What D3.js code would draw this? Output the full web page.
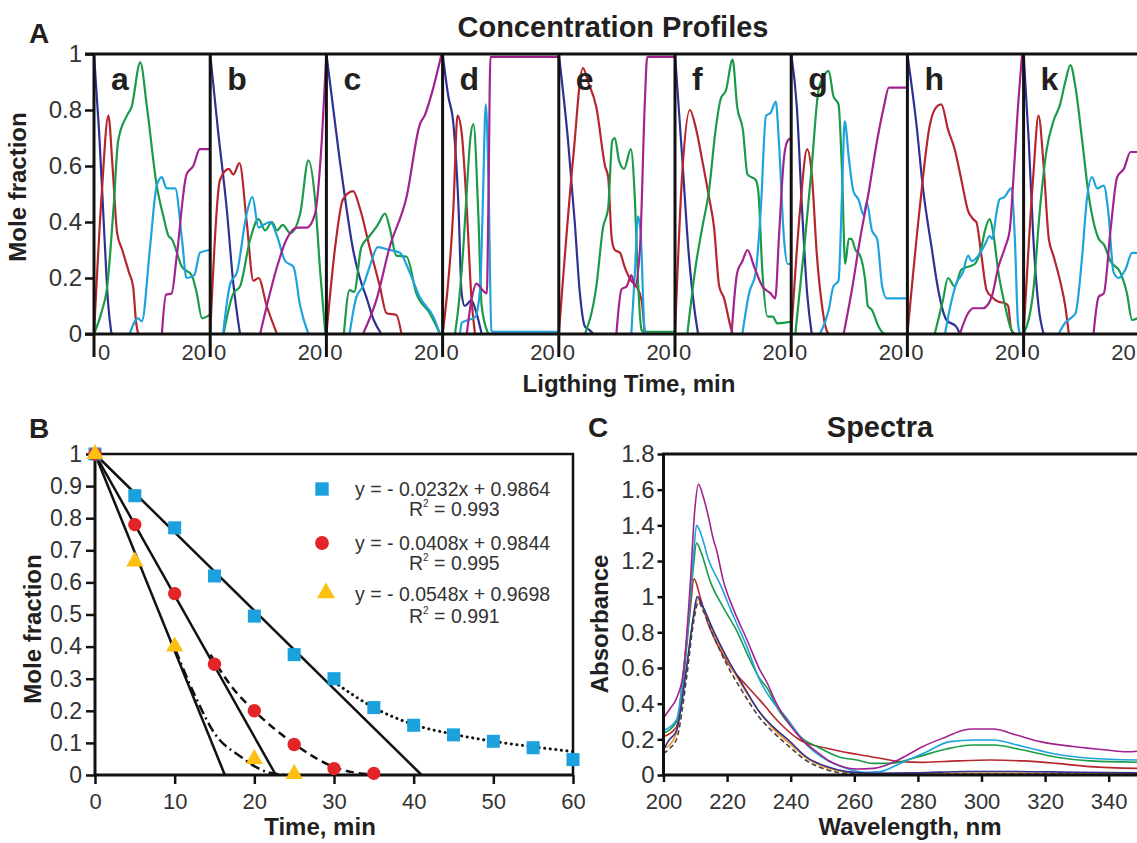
<!DOCTYPE html>
<html>
<head>
<meta charset="utf-8">
<script src="https://cdn.jsdelivr.net/npm/d3@7"></script>
<style>
body { margin: 0; background: #fff; }
svg { display: block; font-family: "Liberation Sans", Arial, sans-serif; }
</style>
</head>
<body>
<div id="wrapper"></div>
<script>
// ---------- Panel A data: one entry per small panel, points are [time (min), mole fraction]
var panelNames = ["a", "b", "c", "d", "e", "f", "g", "h", "k"];

var navyProfiles = [
    [[0,1],[1,0.72],[2,0.36],[2.7,0.12],[3.4,0]],
    [[0,1],[1.5,0.73],[3.2,0.45],[4.5,0.18],[5.8,0]],
    [[0,1],[1.5,0.78],[2.6,0.62],[3.9,0.45],[5.2,0.3],[6.5,0.2],[7.8,0.13],[9.2,0.05],[10.7,0]],
    [[0,1],[1.1,0.85],[2.1,0.75],[3.1,0.45],[3.7,0.145],[4.3,0.1],[5.6,0.12],[6.6,0.074],[7.6,0]],
    [[0,1],[1.8,0.69],[3.1,0.4],[4.1,0.145],[5.1,0.026],[6,0.014],[6.7,0]],
    [[0,1],[1.4,0.63],[2.7,0.28],[3.7,0.1],[4.5,0]],
    [[0,1],[1.1,0.81],[2.1,0.45],[3.1,0.145],[4,0]],
    [[0,1],[1.75,0.75],[3.1,0.51],[4.7,0.31],[6,0.157],[7.6,0.05],[9.5,0.026],[10.2,0]],
    [[0,1],[1,0.69],[1.9,0.34],[2.9,0.1],[3.9,0]]
];

var redProfiles = [
    [[0,0],[1.5,0.5],[2.8,0.78],[3.6,0.6],[4.5,0.36],[5.5,0.3],[6.8,0.22],[7.6,0.17],[8.2,0.04],[8.6,0]],
    [[0,0],[1.9,0.55],[3.6,0.59],[4.5,0.57],[5.7,0.61],[7.1,0.4],[8.4,0.19],[9.4,0.2],[11,0.1],[13,0]],
    [[0,0],[1.9,0.34],[3.2,0.48],[5.2,0.51],[6.5,0.45],[8.4,0.31],[10.4,0.17],[11.7,0.074],[13.6,0.068],[14.6,0]],
    [[0,0],[2.1,0.45],[2.9,0.78],[3.7,0.72],[4.7,0.45],[5.6,0.13],[6.3,0]],
    [[0,0],[2.8,0.63],[4.7,0.95],[5.7,0.9],[7.3,0.81],[9,0.6],[9.6,0.56],[10.3,0.34],[10.9,0.3],[11.9,0.29],[12.8,0.24],[14.1,0.19],[15.1,0.17],[16.1,0.12],[16.7,0]],
    [[0,0],[1.4,0.57],[2.9,0.8],[4,0.74],[5.3,0.62],[6.6,0.49],[7.6,0.38],[8.6,0.17],[9.5,0.13],[10.8,0.026],[11.2,0]],
    [[0,0],[1.75,0.45],[3.1,0.66],[4,0.57],[5,0.28],[6,0.1],[6.9,0.012],[7.3,0]],
    [[0,0],[2.4,0.45],[4.3,0.74],[5.6,0.81],[6.6,0.82],[7.9,0.73],[9.2,0.66],[10.5,0.55],[11.8,0.44],[12.8,0.41],[13.4,0.4],[14.4,0.28],[15.4,0.157],[16.4,0.133],[17.7,0.115],[19,0.11],[19.6,0.1],[20.2,0.014],[20.9,0]],
    [[0,0],[1.9,0.57],[2.9,0.78],[3.9,0.6],[4.9,0.34],[5.8,0.28],[7.1,0.19],[8.1,0.1],[8.8,0]]
];

var greenProfiles = [
    [[0,0],[1.5,0.08],[2.5,0.16],[3.8,0.45],[4.7,0.69],[6.4,0.78],[7.3,0.81],[9,0.97],[10.3,0.81],[12.2,0.53],[13.5,0.42],[14.5,0.35],[15.1,0.34],[17.1,0.24],[19,0.21],[20,0.145],[21,0.056],[22.6,0.07]],
    [[2.6,0],[4.5,0.145],[5.8,0.17],[7.8,0.34],[9.4,0.41],[10.7,0.37],[12,0.4],[13,0.37],[14.1,0.39],[15.6,0.36],[17.5,0.43],[19.1,0.62],[20.4,0.48],[21.4,0.22],[22.4,0]],
    [[3.4,0],[4.5,0.157],[5.4,0.15],[6.8,0.31],[8.4,0.35],[10,0.39],[11.4,0.43],[12.3,0.38],[13.6,0.28],[15.6,0.276],[17.5,0.145],[20.1,0.074],[22.1,0]],
    [[2.4,0],[3.1,0.1],[4,0.3],[4.7,0.51],[5.4,0.7],[6,0.75],[6.9,0.45],[7.6,0.1],[8.9,0]],
    [[5.1,0],[7.3,0.17],[8.6,0.38],[9.6,0.45],[10.4,0.69],[10.9,0.7],[11.7,0.62],[12.7,0.59],[14,0.66],[14.8,0.48],[15.4,0.19],[16.1,0.014],[16.5,0.008],[22.6,0.008]],
    [[2.4,0],[4,0.24],[5.3,0.38],[6.6,0.51],[7.9,0.73],[8.9,0.84],[9.9,0.87],[11.2,0.98],[12.1,0.81],[13.2,0.73],[14.1,0.57],[15.7,0.55],[16.2,0.51],[17,0.22],[18,0.062],[19,0.062],[19.9,0.038],[22.6,0.044]],
    [[0.8,0],[2.7,0.34],[4,0.6],[5.3,0.87],[6.3,0.92],[7.3,0.94],[8.2,0.85],[9.2,0.82],[9.9,0.57],[10.5,0.25],[11.2,0.34],[11.7,0.34],[12.5,0.3],[13.4,0.28],[14.4,0.19],[14.9,0.1],[15.7,0.086],[17,0.026],[18.3,0],[22.6,0]],
    [[5.3,0],[6.9,0.12],[7.9,0.2],[9.2,0.17],[10.5,0.23],[11.8,0.24],[13.1,0.25],[14.4,0.31],[15.1,0.37],[16,0.41],[16.7,0.36],[17.7,0.22],[19,0.1],[20,0.026],[20.6,0]],
    [[0,0],[1.9,0.157],[3.2,0.45],[4.5,0.66],[5.8,0.76],[7.1,0.82],[8.1,0.9],[9.1,0.96],[10.1,0.88],[11.4,0.69],[12.7,0.49],[13.6,0.4],[14.6,0.34],[15.6,0.32],[16.9,0.26],[18.8,0.22],[20.1,0.145],[21.1,0.05],[22.1,0.056]]
];

var blueProfiles = [
    [[6.9,0],[8.6,0.056],[9.3,0.045],[10.9,0.31],[12.2,0.53],[13.2,0.56],[14.1,0.52],[15.8,0.52],[17.1,0.34],[18,0.2],[19.5,0.21],[20.6,0.29],[22.6,0.3]],
    [[2.5,0],[3.9,0.18],[5.2,0.22],[7.1,0.43],[8.2,0.49],[9.4,0.38],[10.4,0.39],[11.7,0.4],[13,0.35],[14.6,0.26],[16.2,0.24],[17.5,0.1],[19.1,0]],
    [[4.5,0],[5.8,0.13],[7.1,0.17],[8.4,0.24],[10,0.31],[12.3,0.3],[14.3,0.29],[16.2,0.22],[18.2,0.13],[20.8,0.062],[22.1,0]],
    [[3.4,0],[3.7,0.04],[5,0.05],[6.3,0.06],[7.3,0.16],[7.8,0.45],[8.4,0.82],[8.9,0.57],[9.5,0.012],[9.8,0.008],[22.6,0.008]],
    [[14.1,0],[14.8,0.22],[15.4,0.42],[15.9,0.37],[16.7,0.014],[17.1,0]],
    [[13.1,0],[14.4,0.145],[15.7,0.22],[16.7,0.45],[17.7,0.78],[18.6,0.79],[19.6,0.83],[20.2,0.69],[21.2,0.34],[21.9,0.25],[22.6,0.25]],
    [[5.6,0],[7.3,0.086],[8.2,0.17],[9.2,0.19],[9.9,0.51],[10.4,0.76],[11.2,0.63],[12.1,0.51],[13.1,0.48],[14.1,0.425],[14.7,0.47],[15.7,0.37],[16.7,0.34],[17.7,0.17],[18.6,0.127],[22.6,0.127]],
    [[7.3,0],[8.6,0.12],[9.5,0.18],[10.8,0.22],[11.8,0.28],[12.5,0.26],[13.8,0.28],[15.1,0.32],[16,0.35],[16.5,0.34],[17.3,0.43],[17.9,0.48],[18.9,0.49],[20.2,0.52],[20.9,0.34],[21.5,0.04],[21.9,0]],
    [[6.8,0],[8.1,0.04],[9.1,0.056],[10.1,0.074],[11.4,0.28],[12.3,0.48],[13.3,0.56],[14.3,0.52],[15.6,0.53],[16.5,0.43],[17.5,0.22],[18.5,0.2],[19.8,0.23],[21.1,0.29],[22.1,0.29]]
];

var magentaProfiles = [
    [[13.2,0],[14,0.14],[15.1,0.145],[16.1,0.28],[18,0.57],[19.3,0.6],[20.6,0.66],[22.6,0.66]],
    [[9.7,0],[11,0.1],[13,0.24],[14.9,0.34],[16.9,0.38],[18.8,0.38],[20.4,0.43],[21.7,0.69],[22.6,1]],
    [[7.1,0],[9.7,0.12],[12.3,0.31],[15.6,0.49],[18.2,0.75],[19.1,0.78],[20.8,0.88],[22.4,1]],
    [[4.7,0],[5.6,0.12],[6.6,0.18],[7.6,0.16],[8.6,0.145],[8.9,0.45],[9.3,0.99],[22.6,0.99]],
    [[11.2,0],[12.2,0.16],[13.2,0.17],[14.1,0.21],[14.8,0.17],[15.8,0.31],[16.7,0.81],[17.2,0.99],[22.6,0.99]],
    [[11,0],[12.1,0.22],[13.1,0.26],[14.1,0.3],[15.4,0.24],[17,0.17],[18.6,0.145],[19.5,0.127],[20.2,0.34],[21.2,0.63],[21.9,0.69],[22.6,0.7]],
    [[10.2,0],[11.8,0.157],[13.4,0.34],[15.1,0.51],[16.7,0.69],[18,0.81],[19,0.88],[20.2,0.88],[22.6,0.88]],
    [[10.2,0],[11.8,0.074],[12.8,0.092],[14.7,0.092],[16.4,0.133],[17.7,0.24],[19,0.31],[19.9,0.37],[20.6,0.55],[21.5,0.81],[22.3,1]],
    [[13.6,0],[14.6,0.133],[15.6,0.145],[16.9,0.37],[18.2,0.56],[19.5,0.59],[20.8,0.65],[22.1,0.65]]
];

var profileTicks = [0, 0.2, 0.4, 0.6, 0.8, 1];
var profileTimeTicks = [0, 20];

// ---------- Panel B data
var squareTime = [0, 5, 10, 15, 20, 25, 30, 35, 40, 45, 50, 55, 60];
var squareValues = [1, 0.87, 0.77, 0.62, 0.495, 0.375, 0.3, 0.21, 0.155, 0.125, 0.105, 0.085, 0.048];
var circleTime = [0, 5, 10, 15, 20, 25, 30, 35];
var circleValues = [1, 0.78, 0.565, 0.345, 0.2, 0.095, 0.02, 0.005];
var triangleTime = [0, 5, 10, 20, 25];
var triangleValues = [1, 0.665, 0.4, 0.05, 0.003];

var squareFit = [[0, 1], [41, 0]];
var circleFit = [[0, 1], [22.7, 0]];
var triangleFit = [[0, 1], [16.3, 0]];

var squareTail = [[30, 0.29], [35, 0.21], [40, 0.157], [45, 0.127], [50, 0.105], [55, 0.088], [60, 0.073]];
var circleTail = [[14.5, 0.375], [17, 0.28], [20, 0.2], [25, 0.097], [30, 0.025], [33, 0.006], [35, 0.002]];
var triangleTail = [[10.1, 0.39], [12.5, 0.25], [15, 0.13], [18.3, 0.057], [21.5, 0.01], [24, 0]];

var fitEquations = ["y = - 0.0232x + 0.9864", "y = - 0.0408x + 0.9844", "y = - 0.0548x + 0.9698"];
var fitR2 = ["0.993", "0.995", "0.991"];

var timeTicks = [0, 10, 20, 30, 40, 50, 60];
var fractionTicks = [0, 0.1, 0.2, 0.3, 0.4, 0.5, 0.6, 0.7, 0.8, 0.9, 1];

// ---------- Panel C data: [wavelength nm, absorbance]
var spectrumMagenta = [[200,0.32],[202,0.37],[204.1,0.43],[206.2,0.57],[208.3,1.04],[209.9,1.5],[211,1.63],[212.5,1.56],[214.1,1.45],[215.7,1.32],[216.7,1.26],[218.8,1.09],[222,0.93],[226.2,0.76],[230.3,0.59],[232.5,0.52],[235,0.42],[239.8,0.28],[244,0.19],[248.2,0.13],[252,0.08],[255.5,0.052],[260.8,0.034],[265.9,0.037],[270,0.055],[274.4,0.09],[281.6,0.16],[289,0.215],[294,0.25],[297.4,0.258],[303.7,0.258],[311,0.224],[318.4,0.187],[328.8,0.16],[339.4,0.14],[345.7,0.13],[350,0.135]];
var spectrumBlue = [[200,0.25],[204.1,0.31],[205.5,0.45],[207.3,0.76],[209.4,1.22],[210.4,1.4],[212,1.34],[214.1,1.21],[217.8,1.07],[222,0.89],[226.2,0.72],[230.3,0.53],[234,0.42],[238.7,0.32],[245,0.17],[251.3,0.084],[257.6,0.037],[263.9,0.015],[268.1,0.019],[274.4,0.065],[281.6,0.12],[290.1,0.187],[297.4,0.196],[303.7,0.196],[313,0.16],[323.6,0.116],[334.1,0.094],[350,0.084]];
var spectrumGreen = [[200,0.234],[204.1,0.3],[205.5,0.42],[207.3,0.72],[209.4,1.17],[210.4,1.3],[212,1.24],[214.6,1.09],[218.8,0.94],[223,0.81],[227.2,0.645],[230.3,0.54],[232.5,0.49],[236,0.37],[239.8,0.28],[244,0.2],[248.2,0.16],[255.5,0.1],[260.8,0.084],[265.9,0.065],[271.1,0.065],[279.6,0.1],[289,0.146],[297.4,0.168],[303.7,0.168],[313,0.14],[323.6,0.1],[334.1,0.079],[350,0.071]];
var spectrumRed = [[200,0.215],[204.1,0.27],[206.2,0.57],[208.3,0.91],[209.6,1.1],[211.5,1],[213.6,0.87],[216.7,0.74],[220.9,0.61],[226.2,0.5],[230.3,0.42],[236.6,0.29],[242.9,0.196],[251.3,0.15],[260.8,0.116],[268.1,0.094],[274.4,0.075],[281.6,0.071],[292.2,0.079],[302.7,0.084],[313,0.079],[323.6,0.065],[334.1,0.047],[350,0.037]];
var spectrumOrange = [[200,0.15],[202,0.17],[204.1,0.24],[207.3,0.6],[209.4,0.88],[210.8,0.985],[212.5,0.93],[215.7,0.8],[219.9,0.65],[225.1,0.49],[230.3,0.35],[234.5,0.26],[239.8,0.175],[245,0.095],[251.3,0.04],[257.6,0.015],[265.9,0.008],[280,0.008],[300,0.01],[330,0.008],[350,0.008]];
var spectrumNavy = [[200,0.14],[201.5,0.19],[204.1,0.25],[207.3,0.61],[209.4,0.89],[210.6,1],[212.5,0.94],[215.7,0.81],[219.9,0.66],[225.1,0.5],[230.3,0.35],[234.5,0.27],[239.8,0.187],[245,0.1],[251.3,0.047],[257.6,0.019],[265.9,0.01],[280,0.012],[295,0.02],[310,0.02],[330,0.015],[350,0.012]];
var spectrumDashed = [[200,0.12],[202,0.15],[204.1,0.2],[207.3,0.55],[209.4,0.85],[211,0.97],[212.5,0.92],[215.7,0.78],[219.9,0.62],[225.1,0.46],[230.3,0.32],[234.5,0.24],[239.8,0.155],[245,0.08],[251.3,0.03],[257.6,0.008],[265.9,0.003],[300,0.005],[350,0.004]];

var wavelengthTicks = [200, 220, 240, 260, 280, 300, 320, 340];
var absorbanceTicks = [0, 0.2, 0.4, 0.6, 0.8, 1, 1.2, 1.4, 1.6, 1.8];

// ---------- common styles
var W = 1137, H = 843;
var ink = "#231f20", tickInk = "#333";
var profileColors = ["#2e3192", "#b5272d", "#1a9b48", "#1fa3dc", "#a3238e"];

var svg = d3.select("#wrapper").append("svg")
    .attr("width", W)
    .attr("height", H);
svg.append("rect").attr("width", W).attr("height", H).attr("fill", "#fff");

// Function: plain text helper
var addText = function(x, y, str, size, weight, anchor, fill) {
    return svg.append("text")
        .attr("x", x)
        .attr("y", y)
        .attr("font-size", size)
        .attr("font-weight", weight || "normal")
        .attr("text-anchor", anchor || "start")
        .attr("fill", fill || ink)
        .text(str);
};

// Function: rotated axis title
var addRotated = function(x, y, str) {
    svg.append("text")
        .attr("transform", "translate(" + x + "," + y + ") rotate(-90)")
        .attr("text-anchor", "middle")
        .attr("font-size", 24)
        .attr("font-weight", "bold")
        .attr("fill", ink)
        .text(str);
};

// Function: style axis ticks
var styleAxis = function(g, size) {
    g.select(".domain").remove();
    g.selectAll(".tick line").attr("stroke", "#111").attr("stroke-width", 2.5);
    g.selectAll(".tick text")
        .attr("font-size", size)
        .attr("font-family", "Liberation Sans, Arial, sans-serif")
        .attr("fill", tickInk);
};

// =============== PANEL A ===============
var A = { left: 94, top: 54, bottom: 334, step: 116.2 };
var yA = d3.scaleLinear().domain([0, 1]).range([A.bottom, A.top]);
var profileSeries = [navyProfiles, redProfiles, greenProfiles, blueProfiles, magentaProfiles];

svg.append("defs").selectAll("clipPath")
    .data(panelNames)
    .enter()
    .append("clipPath")
    .attr("id", function(d) { return "clip-" + d; })
    .append("rect")
    .attr("x", function(d, i) { return A.left + i * A.step; })
    .attr("y", A.top - 2)
    .attr("width", A.step)
    .attr("height", A.bottom - A.top + 4);

panelNames.forEach(function(name, i) {
    var x0 = A.left + i * A.step;
    var xA = d3.scaleLinear().domain([0, 22.6]).range([x0, x0 + A.step]);
    var lineA = d3.line()
        .x(function(d) { return xA(d[0]); })
        .y(function(d) { return yA(d[1]); })
        .curve(d3.curveMonotoneX);

    var g = svg.append("g").attr("clip-path", "url(#clip-" + name + ")");
    profileSeries.forEach(function(series, s) {
        g.append("path")
            .datum(series[i])
            .attr("d", lineA)
            .attr("fill", "none")
            .attr("stroke", profileColors[s])
            .attr("stroke-width", 2.2);
    });

    addText(x0 + 17, 90, name, 32, "bold", "start", ink);

    // x labels 0 / 20 under each panel
    profileTimeTicks.forEach(function(t) {
        addText(xA(t) + (t === 0 ? 10 : -3), 360, String(t), 22, "normal", "middle", tickInk);
    });
});

// frame lines of panel A
svg.append("line").attr("x1", 85).attr("x2", W).attr("y1", A.top).attr("y2", A.top)
    .attr("stroke", "#111").attr("stroke-width", 3);
svg.append("line").attr("x1", 85).attr("x2", W).attr("y1", A.bottom).attr("y2", A.bottom)
    .attr("stroke", "#111").attr("stroke-width", 3);
svg.selectAll("line.sep")
    .data(panelNames)
    .enter()
    .append("line")
    .attr("class", "sep")
    .attr("x1", function(d, i) { return A.left + i * A.step; })
    .attr("x2", function(d, i) { return A.left + i * A.step; })
    .attr("y1", A.top)
    .attr("y2", 357)
    .attr("stroke", "#111")
    .attr("stroke-width", 3);

var axA = svg.append("g")
    .attr("transform", "translate(" + A.left + ",0)")
    .call(d3.axisLeft(yA).tickValues(profileTicks).tickSize(9).tickPadding(3).tickFormat(d3.format("~g")));
styleAxis(axA, 24);

addText(29, 43, "A", 28, "bold");
addText(613, 37, "Concentration Profiles", 29, "bold", "middle");
addRotated(26, 187, "Mole fraction");
addText(629, 392, "Ligthing Time, min", 24, "bold", "middle");

// =============== PANEL B ===============
var B = { left: 95, right: 573, top: 454, bottom: 775 };
var xB = d3.scaleLinear().domain([0, 60]).range([B.left, B.right]);
var yB = d3.scaleLinear().domain([0, 1]).range([B.bottom, B.top]);
var lineB = d3.line()
    .x(function(d) { return xB(d[0]); })
    .y(function(d) { return yB(d[1]); });
var curveB = d3.line()
    .x(function(d) { return xB(d[0]); })
    .y(function(d) { return yB(d[1]); })
    .curve(d3.curveMonotoneX);

[squareFit, circleFit, triangleFit].forEach(function(d) {
    svg.append("path").datum(d).attr("d", lineB)
        .attr("fill", "none").attr("stroke", "#111").attr("stroke-width", 2.5);
});
svg.append("path").datum(squareTail).attr("d", curveB)
    .attr("fill", "none").attr("stroke", "#111").attr("stroke-width", 3)
    .attr("stroke-linecap", "round").attr("stroke-dasharray", "0.1,5.5");
svg.append("path").datum(circleTail).attr("d", curveB)
    .attr("fill", "none").attr("stroke", "#111").attr("stroke-width", 2.5)
    .attr("stroke-dasharray", "8,5");
svg.append("path").datum(triangleTail).attr("d", curveB)
    .attr("fill", "none").attr("stroke", "#111").attr("stroke-width", 2.5)
    .attr("stroke-dasharray", "10,4,2,4");

// box
svg.append("path")
    .attr("d", "M" + B.left + "," + B.top + "H" + B.right + "V" + B.bottom)
    .attr("fill", "none").attr("stroke", "#111").attr("stroke-width", 2.5);

var axBy = svg.append("g")
    .attr("transform", "translate(" + B.left + ",0)")
    .call(d3.axisLeft(yB).tickValues(fractionTicks).tickSize(9).tickPadding(4).tickFormat(d3.format("~g")));
styleAxis(axBy, 23);
var axBx = svg.append("g")
    .attr("transform", "translate(0," + B.bottom + ")")
    .call(d3.axisBottom(xB).tickValues(timeTicks).tickSize(9).tickPadding(9));
styleAxis(axBx, 22);
svg.append("line").attr("x1", B.left).attr("x2", B.left).attr("y1", B.top).attr("y2", B.bottom + 1)
    .attr("stroke", "#111").attr("stroke-width", 3);
svg.append("line").attr("x1", B.left - 1).attr("x2", B.right).attr("y1", B.bottom).attr("y2", B.bottom)
    .attr("stroke", "#111").attr("stroke-width", 3);

var markerColors = ["#1ba1dd", "#e42528", "#fdc010"];
var markerShapes = [d3.symbolSquare, d3.symbolCircle, d3.symbolTriangle];
var markerSizes = [170, 140, 130];

var addMarkers = function(times, values, k) {
    svg.selectAll(null)
        .data(times.map(function(t, i) { return [t, values[i]]; }))
        .enter()
        .append("path")
        .attr("transform", function(d) { return "translate(" + xB(d[0]) + "," + yB(d[1]) + ")"; })
        .attr("d", d3.symbol().type(markerShapes[k]).size(markerSizes[k]))
        .attr("fill", markerColors[k]);
};
addMarkers(squareTime, squareValues, 0);
addMarkers(circleTime, circleValues, 1);
addMarkers(triangleTime, triangleValues, 2);

// legend
var legendY = [489, 543, 593];
fitEquations.forEach(function(eq, k) {
    svg.append("path")
        .attr("transform", "translate(" + (k === 2 ? 326 : 322) + "," + legendY[k] + ")")
        .attr("d", d3.symbol().type(markerShapes[k]).size(markerSizes[k] + 10))
        .attr("fill", markerColors[k]);
    addText(355, legendY[k] + 7 - (k === 2 ? -1 : 0), eq, 19.5, "normal", "start", tickInk);
    var r = addText(409, legendY[k] + 27 + (k === 2 ? 3 : 0), "R", 19.5, "normal", "start", tickInk);
    r.append("tspan").attr("font-size", 10).attr("dy", -9).text("2");
    r.append("tspan").attr("dy", 9).text(" = " + fitR2[k]);
});

addText(29, 438, "B", 28, "bold");
addRotated(41, 629, "Mole fraction");
addText(320, 835, "Time, min", 24, "bold", "middle");

// =============== PANEL C ===============
var C = { left: 663.5, top: 454, bottom: 775 };
var xC = d3.scaleLinear().domain([200, 340]).range([C.left, 1108.7]);
var yC = d3.scaleLinear().domain([0, 1.8]).range([C.bottom, C.top]);
var lineC = d3.line()
    .x(function(d) { return xC(d[0]); })
    .y(function(d) { return yC(d[1]); })
    .curve(d3.curveMonotoneX);

var spectra = [spectrumRed, spectrumGreen, spectrumBlue, spectrumMagenta, spectrumOrange, spectrumNavy];
var spectraColors = ["#b5272d", "#1a9b48", "#1fa3dc", "#a3238e", "#f7941d", "#2e3192"];
spectra.forEach(function(d, k) {
    svg.append("path").datum(d).attr("d", lineC)
        .attr("fill", "none").attr("stroke", spectraColors[k]).attr("stroke-width", 1.6);
});
svg.append("path").datum(spectrumDashed).attr("d", lineC)
    .attr("fill", "none").attr("stroke", "#444").attr("stroke-width", 1.6)
    .attr("stroke-dasharray", "5,3");

var axCy = svg.append("g")
    .attr("transform", "translate(" + C.left + ",0)")
    .call(d3.axisLeft(yC).tickValues(absorbanceTicks).tickSize(6).tickPadding(3).tickFormat(d3.format("~g")));
styleAxis(axCy, 24);
var axCx = svg.append("g")
    .attr("transform", "translate(0," + C.bottom + ")")
    .call(d3.axisBottom(xC).tickValues(wavelengthTicks).tickSize(7).tickPadding(11));
styleAxis(axCx, 22);
svg.append("path")
    .attr("d", "M" + W + "," + C.top + "H" + C.left + "V" + C.bottom + "H" + W)
    .attr("fill", "none").attr("stroke", "#111").attr("stroke-width", 3);

addText(588, 437, "C", 28, "bold");
addText(880, 437, "Spectra", 29, "bold", "middle");
addRotated(608, 624, "Absorbance");
addText(910, 835, "Wavelength, nm", 24, "bold", "middle");
</script>
</body>
</html>
